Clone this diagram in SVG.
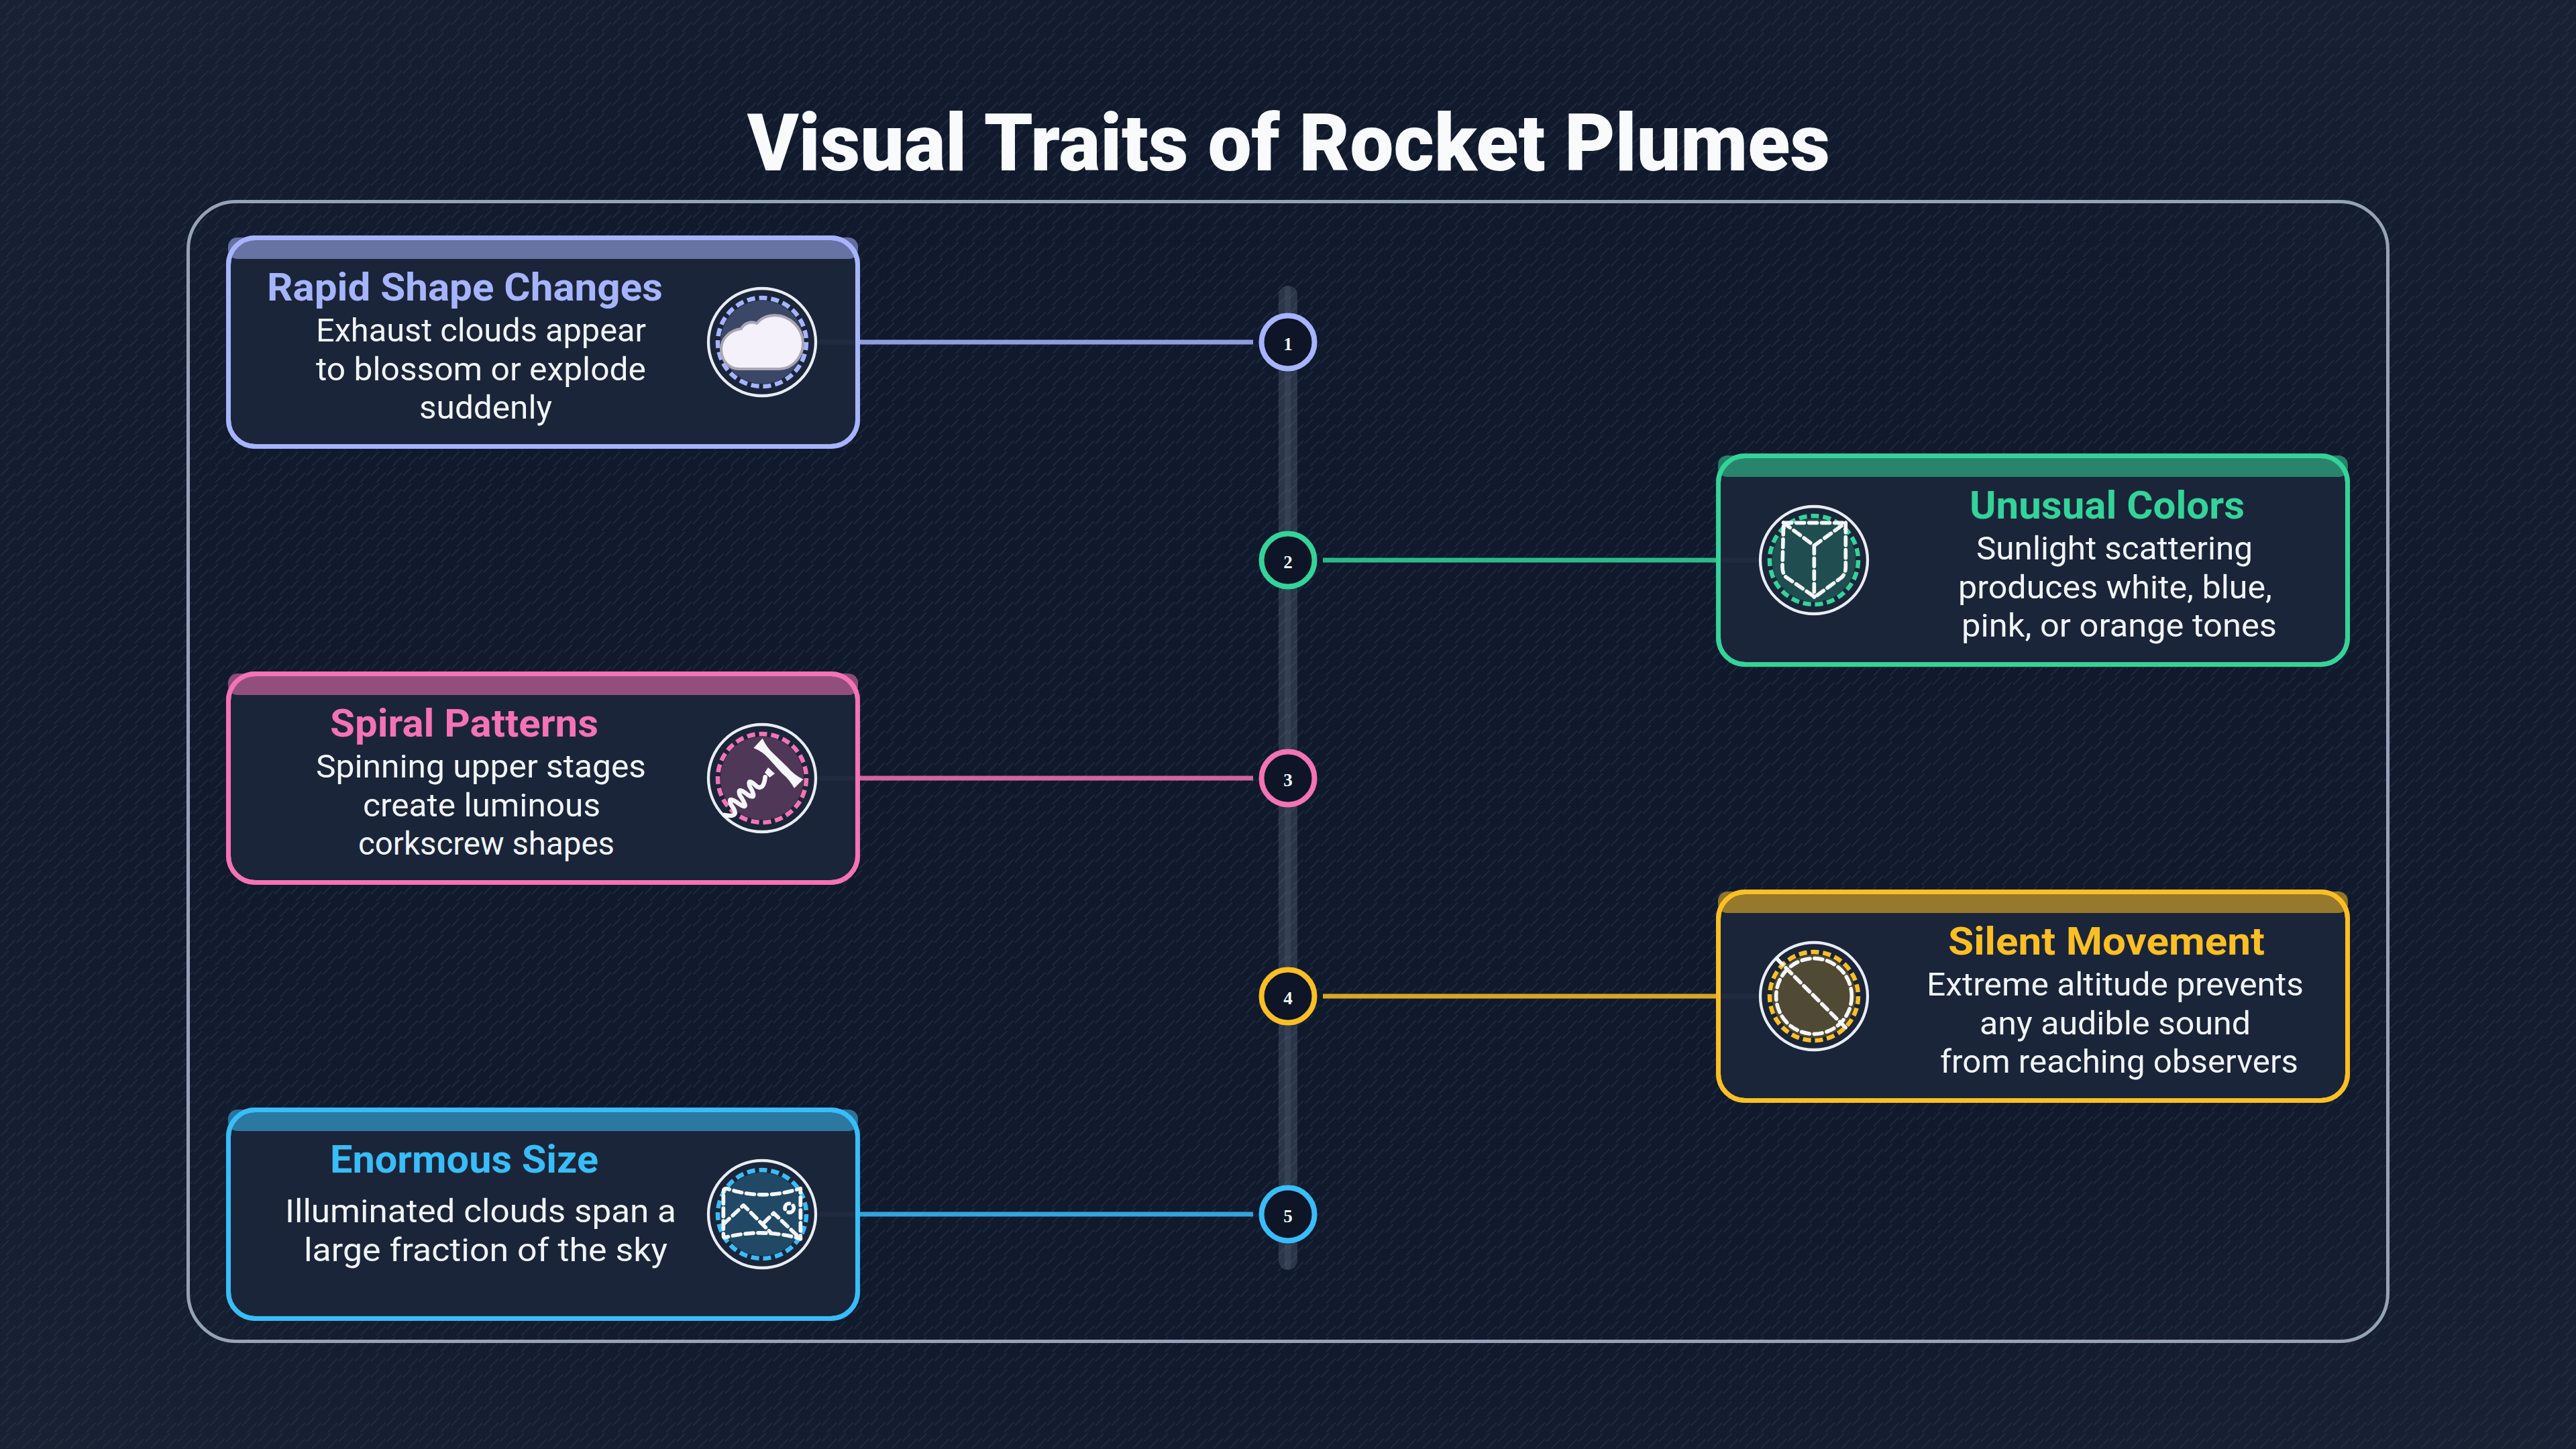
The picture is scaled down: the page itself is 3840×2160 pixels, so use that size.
<svg xmlns="http://www.w3.org/2000/svg" width="3840" height="2160" viewBox="0 0 3840 2160">
<style>
text{font-family:"Roboto","Open Sans","Liberation Sans",sans-serif}
.t{font-weight:700;font-size:58px}
.b{font-size:48px;fill:#f1f5f9}
.n{font-family:"Liberation Serif",serif;font-weight:700;font-size:27px;fill:#f1f5f9;text-anchor:middle}
.card{fill:#1b2539;stroke-width:7}
.hd{opacity:.55}
.oring{fill:none;stroke:#e8edf5;stroke-width:4.3}
.ring{stroke-width:6.5;stroke-dasharray:12 6;fill:none}
.disc{opacity:.24}
.d{fill:none;stroke:#f4f6f9;stroke-width:17;stroke-dasharray:36 21;stroke-linecap:round;stroke-linejoin:round}
.node{fill:#0d1526;stroke-width:8}
.conn{stroke-width:7;opacity:.85}
.ghost{stroke:#fff;stroke-width:7;opacity:.025}
</style>
<defs>
<pattern id="st" width="24" height="24" patternUnits="userSpaceOnUse"><path d="M1 13L13 1M9 23L23 9" stroke="#2a3a50" stroke-width="2.2" opacity=".42" fill="none"/></pattern>
<radialGradient id="bg" cx="50%" cy="50%" r="70%"><stop offset="0" stop-color="#10192b"/><stop offset=".6" stop-color="#111a2d"/><stop offset="1" stop-color="#182232"/></radialGradient>
</defs>
<rect width="3840" height="2160" fill="url(#bg)"/>
<rect width="3840" height="2160" fill="url(#st)"/>
<text x="1114" y="254" font-size="118" font-weight="900" fill="#f8fafc" textLength="1614" lengthAdjust="spacingAndGlyphs">Visual Traits of Rocket Plumes</text>
<rect id="panel" x="280.5" y="300.5" width="3279" height="1699" rx="72" fill="none" stroke="#94a3b8" stroke-width="5"/>
<g id="rail">
<rect x="1906" y="426" width="28" height="1467" rx="14" fill="#94a3b8" opacity=".2"/>
<rect x="1915" y="426" width="9" height="1467" rx="4.5" fill="#94a3b8" opacity=".1"/>
</g>
<g id="connectors">
<path class="conn" stroke="#a5b4fc" d="M1282 510H1868"/>
<path class="conn" stroke="#34d399" d="M1972 835H2558"/>
<path class="conn" stroke="#f472b6" d="M1282 1160H1868"/>
<path class="conn" stroke="#fbbf24" d="M1972 1485H2558"/>
<path class="conn" stroke="#38bdf8" d="M1282 1810H1868"/>
</g>
<g id="card1">
<rect class="card" x="340.5" y="354.5" width="938" height="311" rx="40" stroke="#a5b4fc"/>
<rect class="hd" x="340" y="354" width="939" height="32" rx="14" fill="#a5b4fc"/>
<rect x="340.5" y="354.5" width="938" height="311" rx="40" fill="none" stroke="#a5b4fc" stroke-width="7"/>
<path class="ghost" d="M1218 510H1275"/>
<text class="t" fill="#a5b4fc" x="398" y="448" textLength="590" lengthAdjust="spacingAndGlyphs">Rapid Shape Changes</text>
<text class="b" x="471" y="509" textLength="492" lengthAdjust="spacingAndGlyphs">Exhaust clouds appear</text>
<text class="b" x="471" y="567" textLength="492" lengthAdjust="spacingAndGlyphs">to blossom or explode</text>
<text class="b" x="625" y="624" textLength="198" lengthAdjust="spacingAndGlyphs">suddenly</text>
<circle class="disc" cx="1136" cy="510" r="62" fill="#a5b4fc"/>
<circle class="ring" cx="1136" cy="510" r="66" stroke="#a5b4fc"/>
<circle class="oring" cx="1136" cy="510" r="80"/>
<path transform="translate(1136 510)" d="M-34 40H26C45 40 61 22 61 2C61-20 42-40 19-40C8-40-2-35-8-28C-16-32-27-28-31-20C-48-18-61-5-61 10C-61 27-50 40-34 40Z" fill="#f5f1fa" stroke="#a9a6b4" stroke-width="4"/>
<circle cx="1920" cy="510" r="39.5" class="node" stroke="#a5b4fc"/>
<text class="n" x="1920" y="522">1</text>
</g>
<g id="card2">
<rect class="card" x="2561.5" y="679.5" width="938" height="311" rx="40" stroke="#34d399"/>
<rect class="hd" x="2561" y="679" width="939" height="32" rx="14" fill="#34d399"/>
<rect x="2561.5" y="679.5" width="938" height="311" rx="40" fill="none" stroke="#34d399" stroke-width="7"/>
<path class="ghost" d="M2565 835H2622"/>
<text class="t" fill="#34d399" x="2936" y="773" textLength="410" lengthAdjust="spacingAndGlyphs">Unusual Colors</text>
<text class="b" x="2946" y="834" textLength="412" lengthAdjust="spacingAndGlyphs">Sunlight scattering</text>
<text class="b" x="2919" y="892" textLength="468" lengthAdjust="spacingAndGlyphs">produces white, blue,</text>
<text class="b" x="2924" y="949" textLength="470" lengthAdjust="spacingAndGlyphs">pink, or orange tones</text>
<circle class="disc" cx="2704" cy="835" r="62" fill="#34d399"/>
<circle class="ring" cx="2704" cy="835" r="66" stroke="#34d399"/>
<circle class="oring" cx="2704" cy="835" r="80"/>
<g transform="translate(2704 835) scale(.3333) translate(-341 -315)">
<path class="d" d="M205 148H483V345Q483 375 465 392L345 480L215 390Q200 375 200 345Z"/>
<path class="d" d="M205 148L342 250L483 148M342 250V480"/>
</g>
<circle cx="1920" cy="835" r="39.5" class="node" stroke="#34d399"/>
<text class="n" x="1920" y="847">2</text>
</g>
<g id="card3">
<rect class="card" x="340.5" y="1004.5" width="938" height="311" rx="40" stroke="#f472b6"/>
<rect class="hd" x="340" y="1004" width="939" height="32" rx="14" fill="#f472b6"/>
<rect x="340.5" y="1004.5" width="938" height="311" rx="40" fill="none" stroke="#f472b6" stroke-width="7"/>
<path class="ghost" d="M1218 1160H1275"/>
<text class="t" fill="#f472b6" x="492" y="1098" textLength="400" lengthAdjust="spacingAndGlyphs">Spiral Patterns</text>
<text class="b" x="471" y="1159" textLength="492" lengthAdjust="spacingAndGlyphs">Spinning upper stages</text>
<text class="b" x="541" y="1217" textLength="354" lengthAdjust="spacingAndGlyphs">create luminous</text>
<text class="b" x="534" y="1274" textLength="382" lengthAdjust="spacingAndGlyphs">corkscrew shapes</text>
<circle class="disc" cx="1136" cy="1160" r="62" fill="#f472b6"/>
<circle class="ring" cx="1136" cy="1160" r="66" stroke="#f472b6"/>
<circle class="oring" cx="1136" cy="1160" r="80"/>
<g transform="translate(1136 1160) scale(.3333) translate(-318 -330)" fill="#f4f6f9">
<path d="M320 152Q340 195 371 222L433 282Q460 315 502 335L462 375Q440 335 407 308L349 244Q320 210 280 195Z"/>
<path d="M345 282L375 310L352 327L330 305Z"/>
<path d="M332 325Q325 385 295 368Q252 325 262 365Q300 430 255 405Q205 365 218 405Q268 480 215 445Q160 405 180 450Q225 510 150 495" fill="none" stroke="#f4f6f9" stroke-width="20" stroke-linecap="round"/>
</g>
<circle cx="1920" cy="1160" r="39.5" class="node" stroke="#f472b6"/>
<text class="n" x="1920" y="1172">3</text>
</g>
<g id="card4">
<rect class="card" x="2561.5" y="1329.5" width="938" height="311" rx="40" stroke="#fbbf24"/>
<rect class="hd" x="2561" y="1329" width="939" height="32" rx="14" fill="#fbbf24"/>
<rect x="2561.5" y="1329.5" width="938" height="311" rx="40" fill="none" stroke="#fbbf24" stroke-width="7"/>
<path class="ghost" d="M2565 1485H2622"/>
<text class="t" fill="#fbbf24" x="2904" y="1423" textLength="472" lengthAdjust="spacingAndGlyphs">Silent Movement</text>
<text class="b" x="2872" y="1484" textLength="562" lengthAdjust="spacingAndGlyphs">Extreme altitude prevents</text>
<text class="b" x="2951" y="1542" textLength="404" lengthAdjust="spacingAndGlyphs">any audible sound</text>
<text class="b" x="2892" y="1599" textLength="534" lengthAdjust="spacingAndGlyphs">from reaching observers</text>
<circle class="disc" cx="2704" cy="1485" r="62" fill="#fbbf24"/>
<circle class="ring" cx="2704" cy="1485" r="66" stroke="#fbbf24"/>
<circle class="oring" cx="2704" cy="1485" r="80"/>
<g transform="translate(2704 1485) scale(.3333) translate(-341 -315)">
<circle class="d" cx="341" cy="315" r="169"/>
<path class="d" d="M175 148L497 470"/>
</g>
<circle cx="1920" cy="1485" r="39.5" class="node" stroke="#fbbf24"/>
<text class="n" x="1920" y="1497">4</text>
</g>
<g id="card5">
<rect class="card" x="340.5" y="1654.5" width="938" height="311" rx="40" stroke="#38bdf8"/>
<rect class="hd" x="340" y="1654" width="939" height="32" rx="14" fill="#38bdf8"/>
<rect x="340.5" y="1654.5" width="938" height="311" rx="40" fill="none" stroke="#38bdf8" stroke-width="7"/>
<path class="ghost" d="M1218 1810H1275"/>
<text class="t" fill="#38bdf8" x="492" y="1748" textLength="400" lengthAdjust="spacingAndGlyphs">Enormous Size</text>
<text class="b" x="425" y="1822" textLength="583" lengthAdjust="spacingAndGlyphs">Illuminated clouds span a</text>
<text class="b" x="453" y="1880" textLength="542" lengthAdjust="spacingAndGlyphs">large fraction of the sky</text>
<circle class="disc" cx="1136" cy="1810" r="62" fill="#38bdf8"/>
<circle class="ring" cx="1136" cy="1810" r="66" stroke="#38bdf8"/>
<circle class="oring" cx="1136" cy="1810" r="80"/>
<g transform="translate(1136 1810) scale(.3333) translate(-318 -330)">
<path class="d" d="M145 230Q145 215 160 215Q318 270 490 215V440Q318 390 150 435Q145 435 145 420Z"/>
<path class="d" d="M145 375L235 290L355 410M325 370L370 325L490 440"/>
<circle class="d" cx="440" cy="302" r="20" stroke-dasharray="20 12"/>
</g>
<circle cx="1920" cy="1810" r="39.5" class="node" stroke="#38bdf8"/>
<text class="n" x="1920" y="1822">5</text>
</g>
</svg>
